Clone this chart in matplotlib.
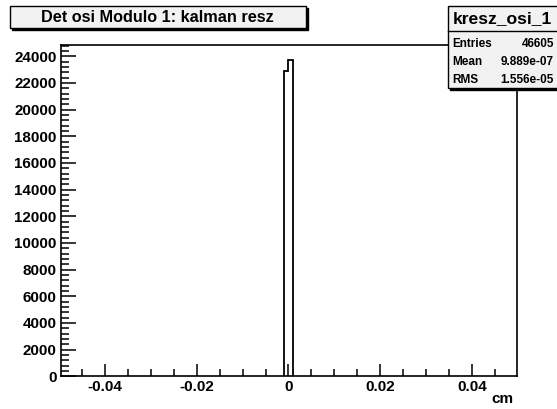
import matplotlib
matplotlib.use("Agg")
import matplotlib.pyplot as plt
import matplotlib.patches as patches
from matplotlib.ticker import MultipleLocator, FixedLocator, FuncFormatter

plt.rcParams['font.family'] = ['Liberation Sans', 'DejaVu Sans']

# histogram data (only non-empty bins)
bin_edges = [-0.001, 0.0, 0.001]
counts = [22910, 23695]
x_ticks = [-0.04, -0.02, 0.0, 0.02, 0.04]
x_tick_labels = ['-0.04', '-0.02', '0', '0.02', '0.04']
title = "Det osi Modulo 1: kalman resz"
hist_name = "kresz_osi_1"
stats = [("Entries", "46605"), ("Mean", "9.889e-07"), ("RMS", "1.556e-05")]

W, H = 557, 409
fig = plt.figure(figsize=(W / 100, H / 100), dpi=100)
fig.patch.set_facecolor('white')

def fx(px):
    return px / W

def fy(py):
    return 1 - py / H

ax = fig.add_axes([fx(60.7), fy(376.2), fx(516.7) - fx(60.7), fy(44.5) - fy(376.2)])
ax.stairs(counts, bin_edges, color='black', lw=1.3, baseline=0)
ax.set_xlim(-0.0497, 0.0498)
ax.set_ylim(0, 1.05 * max(counts))

for s in ax.spines.values():
    s.set_linewidth(1.2)

ax.xaxis.set_major_locator(FixedLocator(x_ticks))
ax.xaxis.set_major_formatter(FuncFormatter(lambda v, p: x_tick_labels[x_ticks.index(round(v, 3))] if round(v, 3) in x_ticks else ''))
ax.xaxis.set_minor_locator(MultipleLocator(0.005))
ax.yaxis.set_major_locator(MultipleLocator(2000))
ax.yaxis.set_minor_locator(MultipleLocator(400))
ax.yaxis.set_major_formatter(FuncFormatter(lambda v, p: '%d' % v))

ax.tick_params(axis='both', which='both', direction='in', width=1.1,
               top=False, right=False, labelsize=10.9)
ax.tick_params(axis='x', which='major', length=8.5, pad=3)
ax.tick_params(axis='x', which='minor', length=5)
ax.tick_params(axis='y', which='major', length=11, pad=3)
ax.tick_params(axis='y', which='minor', length=5.8)
for lbl in ax.get_xticklabels() + ax.get_yticklabels():
    lbl.set_fontweight('bold')

fig.text(fx(513), fy(399), "cm", ha='right', va='center', fontsize=11, fontweight='bold')

# title box with shadow
fig.patches.append(patches.Rectangle((fx(12), fy(30)), fx(296), fy(8) - fy(30),
                                     transform=fig.transFigure, facecolor='black', edgecolor='black'))
fig.patches.append(patches.Rectangle((fx(10), fy(28)), fx(296), fy(6) - fy(28),
                                     transform=fig.transFigure, facecolor='#f2f2f2',
                                     edgecolor='black', lw=1.0))
fig.text(fx(157), fy(17), title, ha='center', va='center', fontsize=11.7, fontweight='bold')

# stats box with shadow
fig.patches.append(patches.Rectangle((fx(449.7), fy(90)), fx(120), fy(8) - fy(90),
                                     transform=fig.transFigure, facecolor='black', edgecolor='black'))
fig.patches.append(patches.Rectangle((fx(447.7), fy(88)), fx(120), fy(6) - fy(88),
                                     transform=fig.transFigure, facecolor='#f2f2f2',
                                     edgecolor='black', lw=1.0))
fig.add_artist(plt.Line2D([fx(447.7), 1], [fy(31), fy(31)], transform=fig.transFigure,
                          color='black', lw=1.0))
fig.text(fx(453), fy(18.5), hist_name, ha='left', va='center', fontsize=12.6, fontweight='bold')
for i, (k, v) in enumerate(stats):
    y = 44 + i * 18
    fig.text(fx(452), fy(y), k, ha='left', va='center', fontsize=8.5, fontweight='bold')
    fig.text(fx(554), fy(y), v, ha='right', va='center', fontsize=8.5, fontweight='bold')

fig.savefig("out.png", dpi=100)
